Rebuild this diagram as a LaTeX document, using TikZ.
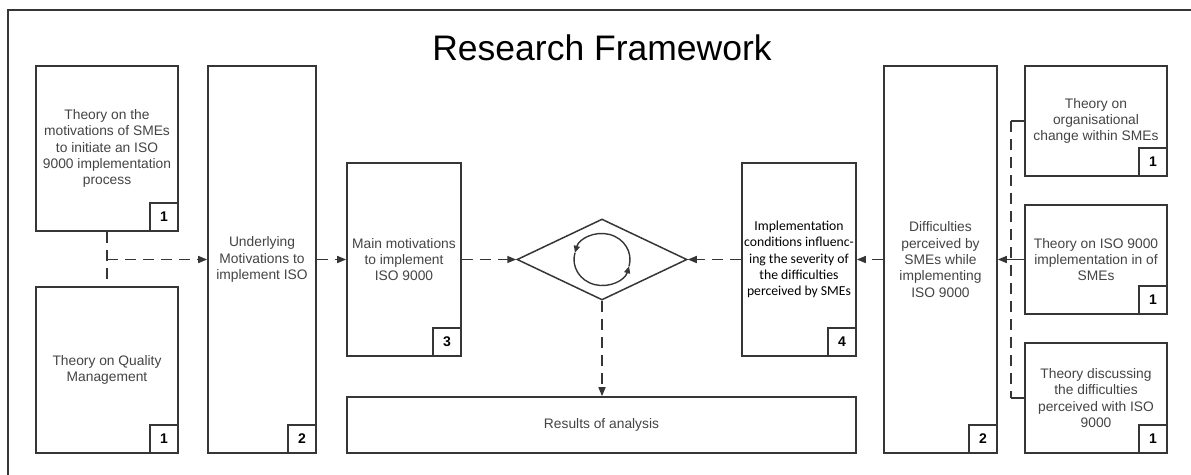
\documentclass[tikz,border=0pt]{standalone}
\usepackage{fontspec}
\setsansfont{Liberation Sans}
\newfontfamily\calfont{Carlito}
\usetikzlibrary{arrows.meta,positioning,shapes.geometric}
\definecolor{ink}{HTML}{363636}
\definecolor{txt}{HTML}{444444}
\tikzset{
  every node/.style={font=\sffamily},
  box/.style={draw=ink, line width=1.6pt, fill=white, align=center, inner sep=0pt, text=txt, font=\sffamily\fontsize{13.8}{16.4}\selectfont},
  numbox/.style={draw=ink, line width=1.6pt, fill=white, minimum size=28pt, inner sep=0pt, text=black, font=\sffamily\bfseries\fontsize{14}{14}\selectfont},
  decision/.style={diamond, draw=ink, line width=1.5pt, minimum width=170pt, minimum height=81pt, inner sep=0pt},
  title/.style={font=\sffamily\fontsize{35.5}{40}\selectfont, text=black},
  frame/.style={draw=ink, line width=1.6pt},
  dashline/.style={line width=1.5pt, draw=ink, dash pattern=on 11pt off 7pt},
  plainline/.style={line width=1.5pt, draw=ink},
  dasharrow/.style={-{Triangle[length=9pt,width=7pt]}, dashline},
  solidarrow/.style={-{Triangle[length=9pt,width=7pt]}, plainline},
  turnarrow/.style={-{Triangle[length=7pt,width=6pt]}, line width=1.4pt, draw=ink},
}
\begin{document}
\begin{tikzpicture}[x=1pt,y=-1pt]
\useasboundingbox (0,0) rectangle (1191,474);
\draw[frame] (8,480) -- (8,10) -- (1196,10);
\node[title, anchor=base] (t) at (602,60) {Research Framework};
% motivations side
\node[box, minimum width=142pt, minimum height=165pt] (motiv) at (107,148.5) {Theory on the\\motivations of SMEs\\to initiate an ISO\\9000 implementation\\process};
\node[box, minimum width=142pt, minimum height=166pt] (qm) at (107,370) {Theory on Quality\\Management};
\node[box, minimum width=108pt, minimum height=387pt] (under) at (262,259.5) {Underlying\\Motivations to\\implement ISO};
\node[box, minimum width=114pt, minimum height=193pt] (mainm) at (404,259.5) {Main motivations\\to implement\\ISO 9000};
% centre
\node[decision] (dia) at (602,259.5) {};
\node[box, minimum width=509pt, minimum height=56pt] (res) at (601.5,425) {Results of analysis};
% difficulties side
\node[box, minimum width=114pt, minimum height=193pt, text=black, font=\calfont\fontsize{13.7}{16.4}\selectfont] (cond) at (799,259.5) {Implementation\\conditions influenc-\\ing the severity of\\the difficulties\\perceived by SMEs};
\node[box, minimum width=113pt, minimum height=387pt] (diff) at (940.5,259.5) {Difficulties\\perceived by\\SMEs while\\implementing\\ISO 9000};
\node[box, minimum width=142pt, minimum height=110pt] (orgch) at (1096,121) {Theory on\\organisational\\change within SMEs};
\node[box, minimum width=142pt, minimum height=109pt] (isoimp) at (1096,259.5) {Theory on ISO 9000\\implementation in of\\SMEs};
\node[box, minimum width=142pt, minimum height=110pt] (diffth) at (1096,398) {Theory discussing\\the difficulties\\perceived with ISO\\9000};
% numbers
\foreach \b/\n in {motiv/1,qm/1,under/2,mainm/3,cond/4,diff/2,orgch/1,isoimp/1,diffth/1}
  \node[numbox, anchor=south east] (\b-n) at (\b.south east) {\n};
% cycle in the diamond
\draw[turnarrow] ([shift={(-15:28pt and 26pt)}]dia.center) arc[start angle=-15, end angle=165, x radius=28pt, y radius=26pt];
\draw[turnarrow] ([shift={(165:28pt and 26pt)}]dia.center) arc[start angle=165, end angle=345, x radius=28pt, y radius=26pt];
% connectors
\coordinate (lj) at (motiv.south |- under.west);
\coordinate[left=13pt of orgch.west] (rt);
\coordinate[left=13pt of diffth.west] (rb);
\draw[dashline] (motiv) -- (qm); \draw[dasharrow] (lj) -- (under); \draw[dasharrow] (under) -- (mainm); \draw[dasharrow] (mainm) -- (dia);
\draw[dasharrow] (dia) -- (dia |- res.north);
\draw[dasharrow] (diff) -- (cond); \draw[dasharrow] (cond) -- (dia); \draw[solidarrow] (isoimp) -- (diff);
\draw[plainline] (orgch.west) -- (rt); \draw[plainline] (diffth.west) -- (rb); \draw[dashline] (rt) -- (rb);
\end{tikzpicture}
\end{document}
